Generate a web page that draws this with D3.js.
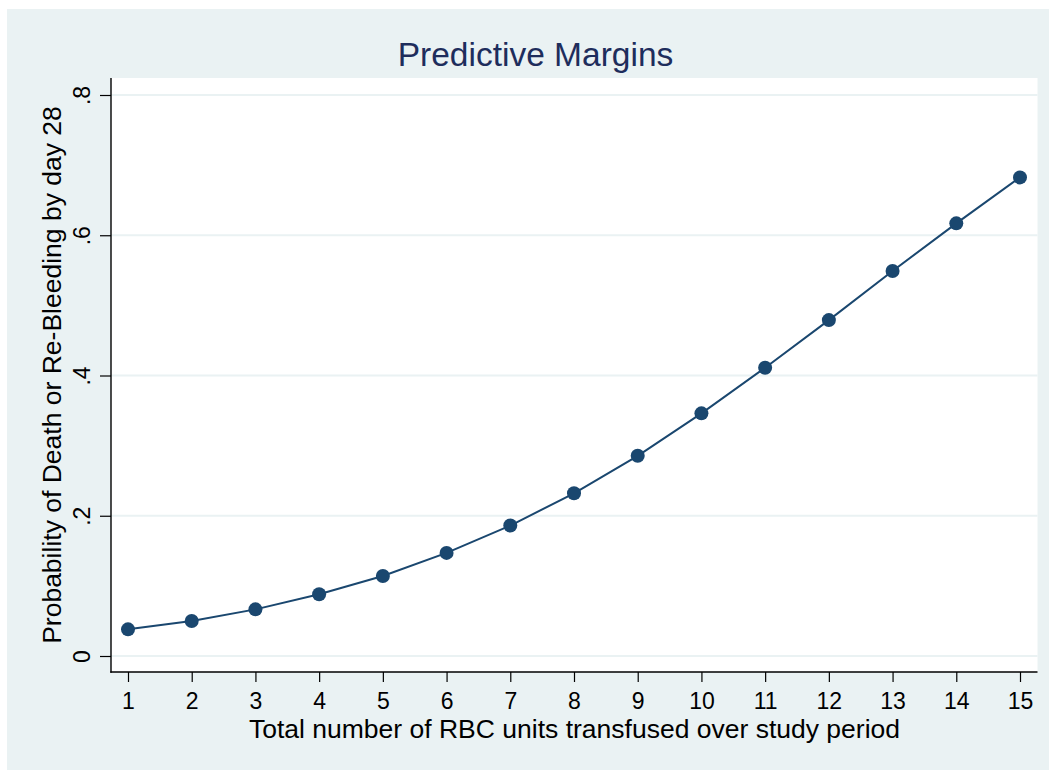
<!DOCTYPE html>
<html>
<head>
<meta charset="utf-8">
<script src="https://cdn.jsdelivr.net/npm/d3@7"></script>
<style>
html,body{margin:0;padding:0;background:#fff;}
svg{display:block;}
text{font-family:"Liberation Sans", Arial, Helvetica, sans-serif;}
</style>
</head>
<body>
<svg id="chart" width="1049" height="770"></svg>
<script>
const units = [1,2,3,4,5,6,7,8,9,10,11,12,13,14,15];
const probability = [0.038,0.050,0.0665,0.088,0.114,0.147,0.186,0.232,0.2855,0.346,0.411,0.479,0.549,0.617,0.6825];
const yTicks = [0, 0.2, 0.4, 0.6, 0.8];
const yTickLabels = ["0", ".2", ".4", ".6", ".8"];
const xTicks = units;
const titleText = "Predictive Margins";
const xTitle = "Total number of RBC units transfused over study period";
const yTitle = "Probability of Death or Re-Bleeding by day 28";

const svg = d3.select("#chart");
const W = 1049, H = 770;
const plot = {left:111, right:1037.5, top:78, bottom:672};
const navy = "#1a476f";

svg.append("rect").attr("x",7).attr("y",9).attr("width",W-7).attr("height",H-9).attr("fill","#eaf2f3");
svg.append("rect").attr("x",plot.left).attr("y",plot.top)
  .attr("width",plot.right-plot.left).attr("height",plot.bottom-plot.top).attr("fill","#fff");

const x = d3.scaleLinear().domain([1,15]).range([128,1020]);
const y = d3.scaleLinear().domain([0,0.8]).range([656,95]);

// gridlines
svg.append("g").selectAll("line").data(yTicks).join("line")
  .attr("x1",plot.left).attr("x2",plot.right)
  .attr("y1",d=>y(d)).attr("y2",d=>y(d))
  .attr("stroke","#eaf2f3").attr("stroke-width",2);

// y axis
const yAxis = d3.axisLeft(y).tickValues(yTicks).tickFormat((d,i)=>yTickLabels[i]).tickSize(11).tickSizeOuter(0);
const gy = svg.append("g").attr("transform",`translate(${plot.left},0)`).call(yAxis);
gy.select(".domain").remove();
gy.selectAll(".tick line").attr("stroke","#000").attr("stroke-width",1.2);
gy.selectAll(".tick text")
  .attr("font-size",23).attr("fill","#000")
  .attr("transform","rotate(-90)")
  .attr("x",0).attr("y",-21).attr("dy",0)
  .attr("text-anchor","middle");
svg.append("line").attr("x1",plot.left).attr("x2",plot.left).attr("y1",plot.top).attr("y2",plot.bottom+0.7)
  .attr("stroke","#000").attr("stroke-width",1.4);

// x axis
const xAxis = d3.axisBottom(x).tickValues(xTicks).tickFormat(d3.format("d")).tickSize(10).tickSizeOuter(0);
const gx = svg.append("g").attr("transform",`translate(0,${plot.bottom})`).call(xAxis);
gx.select(".domain").remove();
gx.selectAll(".tick line").attr("stroke","#000").attr("stroke-width",1.2);
gx.selectAll(".tick text").attr("font-size",23).attr("fill","#000").attr("y",0).attr("dy",0)
  .attr("transform","translate(0,36.5)");
svg.append("line").attr("x1",plot.left-0.7).attr("x2",plot.right).attr("y1",plot.bottom).attr("y2",plot.bottom)
  .attr("stroke","#000").attr("stroke-width",1.4);

// line + markers
const pts = units.map((u,i)=>({u, p:probability[i]}));
svg.append("path").datum(pts)
  .attr("d", d3.line().x(d=>x(d.u)).y(d=>y(d.p)))
  .attr("fill","none").attr("stroke",navy).attr("stroke-width",2);
svg.append("g").selectAll("circle").data(pts).join("circle")
  .attr("cx",d=>x(d.u)).attr("cy",d=>y(d.p)).attr("r",7).attr("fill",navy);

// titles
svg.append("text").attr("x",535.5).attr("y",66).attr("text-anchor","middle")
  .attr("font-size",33.5).attr("fill","#1e2d5c").text(titleText);
svg.append("text").attr("x",574.5).attr("y",738).attr("text-anchor","middle")
  .attr("font-size",26.5).attr("fill","#000").text(xTitle);
svg.append("text").attr("transform",`translate(61,${(plot.top+plot.bottom)/2}) rotate(-90)`)
  .attr("text-anchor","middle").attr("font-size",26.5).attr("fill","#000").text(yTitle);
</script>
</body>
</html>
